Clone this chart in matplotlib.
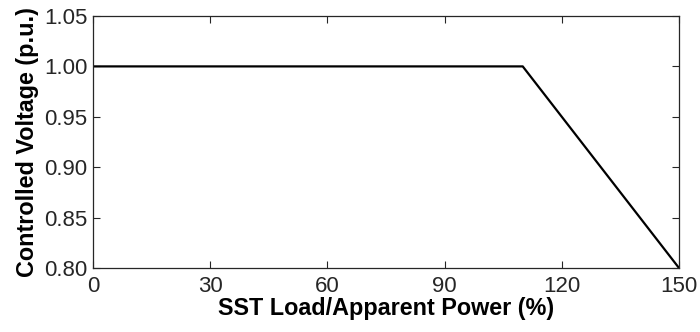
import matplotlib.pyplot as plt

# Data (piecewise voltage control curve)
load_pct = [0, 110, 150]
voltage = [1.00, 1.00, 0.80]
xticks = [0, 30, 60, 90, 120, 150]
yticks = [0.80, 0.85, 0.90, 0.95, 1.00, 1.05]

plt.rcParams['font.family'] = ['Liberation Sans', 'DejaVu Sans']

fig = plt.figure(figsize=(7, 3.32), dpi=100)
ax = fig.add_axes([93/700, 1 - 268/332, (679 - 93)/700, (268 - 16)/332])

ax.plot(load_pct, voltage, color='black', linewidth=1.6)

ax.set_xlim(0, 150)
ax.set_ylim(0.80, 1.05)
ax.set_xticks(xticks)
ax.set_yticks(yticks)
ax.set_yticklabels([f'{v:.2f}' for v in yticks])
ax.tick_params(direction='in', top=True, right=True, labelsize=16,
               length=5, width=0.8, color='#262626', labelcolor='#262626')
ax.tick_params(axis='x', pad=6)
ax.tick_params(axis='y', pad=4)
for s in ax.spines.values():
    s.set_color('#262626')
    s.set_linewidth(0.9)

ax.set_xlabel('SST Load/Apparent Power (%)', fontsize=16.8, fontweight='bold', labelpad=0)
ax.set_ylabel('Controlled Voltage (p.u.)', fontsize=16.8, fontweight='bold', labelpad=4)

fig.savefig('out.png', dpi=100)
